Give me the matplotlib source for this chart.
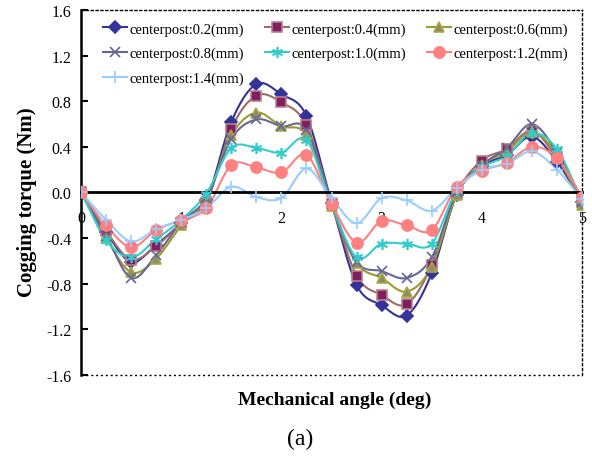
import numpy as np
import matplotlib.pyplot as plt

plt.rcParams['font.family'] = ['Liberation Serif', 'DejaVu Serif']

# rotor angle samples (deg)
angle = [0, 0.25, 0.5, 0.75, 1.0, 1.25, 1.5, 1.75, 2.0, 2.25, 2.5,
         2.75, 3.0, 3.25, 3.5, 3.75, 4.0, 4.25, 4.5, 4.75, 5.0]

# cogging torque (Nm) for each centerpost width
t_02 = [0, -0.35, -0.61, -0.46, -0.27, -0.07, 0.62, 0.95, 0.86, 0.67, -0.09,
        -0.81, -0.99, -1.08, -0.71, -0.02, 0.23, 0.33, 0.49, 0.27, -0.08]
t_04 = [0, -0.34, -0.59, -0.47, -0.27, -0.09, 0.56, 0.85, 0.79, 0.59, -0.09,
        -0.73, -0.90, -0.98, -0.64, -0.01, 0.28, 0.38, 0.54, 0.30, -0.08]
t_06 = [0, -0.40, -0.70, -0.58, -0.29, -0.06, 0.50, 0.70, 0.58, 0.50, -0.12,
        -0.62, -0.75, -0.87, -0.65, -0.02, 0.24, 0.36, 0.53, 0.33, -0.11]
t_08 = [0, -0.38, -0.75, -0.55, -0.26, -0.05, 0.47, 0.64, 0.58, 0.55, -0.10,
        -0.61, -0.69, -0.75, -0.57, 0.00, 0.24, 0.39, 0.60, 0.35, -0.08]
t_10 = [0, -0.42, -0.57, -0.41, -0.24, -0.01, 0.39, 0.39, 0.35, 0.46, -0.10,
        -0.57, -0.45, -0.45, -0.45, 0.02, 0.22, 0.32, 0.52, 0.38, -0.07]
t_12 = [0, -0.29, -0.48, -0.33, -0.24, -0.14, 0.24, 0.22, 0.175, 0.33, -0.10,
        -0.44, -0.25, -0.29, -0.33, 0.05, 0.19, 0.26, 0.40, 0.30, -0.04]
t_14 = [0, -0.24, -0.43, -0.32, -0.24, -0.14, 0.05, -0.04, -0.05, 0.21, -0.05,
        -0.27, -0.05, -0.07, -0.16, 0.04, 0.20, 0.25, 0.36, 0.20, -0.06]

yticks = [-1.6, -1.2, -0.8, -0.4, 0.0, 0.4, 0.8, 1.2, 1.6]
ytick_labels = ['-1.6', '-1.2', '-0.8', '-0.4', '0.0', '0.4', '0.8', '1.2', '1.6']

# (label, values, line colour, marker, face, edge, size)
series = [
    ('centerpost:0.2(mm)', t_02, '#333399', 'D', '#333399', '#333399', 6),
    ('centerpost:0.4(mm)', t_04, '#A06A6A', 's', '#7F1F5F', '#B8808A', 7),
    ('centerpost:0.6(mm)', t_06, '#9C9C2C', '^', '#8C8C6C', '#A8A840', 7),
    ('centerpost:0.8(mm)', t_08, '#666699', 'x', '#666699', '#666699', 7),
    ('centerpost:1.0(mm)', t_10, '#33CCCC', (6, 2, 0), '#33CCCC', '#33CCCC', 8),
    ('centerpost:1.2(mm)', t_12, '#FF8080', 'o', '#FF8080', '#FF8080', 8),
    ('centerpost:1.4(mm)', t_14, '#99CCFF', '+', '#99CCFF', '#99CCFF', 9),
]


def smooth(x, y, n=20):
    # Catmull-Rom curve through the sample points
    x = np.asarray(x, float)
    y = np.asarray(y, float)
    px = np.concatenate([[2 * x[0] - x[1]], x, [2 * x[-1] - x[-2]]])
    py = np.concatenate([[2 * y[0] - y[1]], y, [2 * y[-1] - y[-2]]])
    t = np.linspace(0, 1, n, endpoint=False)
    xs, ys = [], []
    for i in range(1, len(px) - 2):
        for p, out in ((px, xs), (py, ys)):
            p0, p1, p2, p3 = p[i - 1], p[i], p[i + 1], p[i + 2]
            out.append(0.5 * (2 * p1 + (-p0 + p2) * t
                              + (2 * p0 - 5 * p1 + 4 * p2 - p3) * t ** 2
                              + (-p0 + 3 * p1 - 3 * p2 + p3) * t ** 3))
    xs.append([x[-1]])
    ys.append([y[-1]])
    return np.concatenate(xs), np.concatenate(ys)


fig = plt.figure(figsize=(5.92, 4.60), dpi=100)
ax = fig.add_axes([0.137, 0.183, 0.846, 0.793])

handles = []
for label, vals, lc, mk, mfc, mec, ms in series:
    sx, sy = smooth(angle, vals)
    ax.plot(sx, sy, color=lc, lw=1.5, zorder=2)
    ax.plot(angle, vals, ls='none', marker=mk, ms=ms, mfc=mfc, mec=mec,
            mew=1.2, zorder=3)
    h, = ax.plot([], [], color=lc, lw=1.5, marker=mk, ms=ms, mfc=mfc,
                 mec=mec, mew=1.2, label=label)
    handles.append(h)

ax.set_xlim(0, 5)
ax.set_ylim(-1.6, 1.6)
ax.set_yticks(yticks)
ax.set_yticklabels(ytick_labels)
ax.set_xticks([0, 1, 2, 3, 4, 5])

# x axis runs through zero
ax.spines['bottom'].set_position(('data', 0))
ax.spines['bottom'].set_linewidth(2)
ax.spines['left'].set_linewidth(1.8)
for s in ('top', 'right'):
    ax.spines[s].set_linestyle((0, (1.5, 2)))
    ax.spines[s].set_linewidth(1)
ax.plot([0, 5], [-1.6, -1.6], color='black', lw=1, ls=(0, (1.5, 2)),
        clip_on=False, zorder=1)

ax.tick_params(axis='x', direction='inout', length=9, width=1.5,
               labelsize=11.5, pad=8)
ax.tick_params(axis='y', direction='in', length=5, width=1.5,
               labelsize=11.5, pad=7)
for t in ax.get_xticklines():
    if t.get_xdata()[0] in (0, 5):
        t.set_visible(False)

fig.text(0.046, 0.56, 'Cogging torque (Nm)', fontsize=15,
         fontweight='bold', rotation=90, ha='center', va='center')
fig.text(0.566, 0.13, 'Mechanical angle (deg)', fontsize=14,
         fontweight='bold', ha='center', va='center')
fig.text(0.507, 0.045, '(a)', fontsize=17, ha='center', va='center')

# legend reads row by row
order = [0, 3, 6, 1, 4, 2, 5]
ax.legend([handles[i] for i in order], [series[i][0] for i in order],
          ncol=3, loc='upper left', bbox_to_anchor=(0.044, 0.967),
          frameon=False, fontsize=10.5, handlelength=1.65,
          handletextpad=0.15, columnspacing=1.45, labelspacing=0.78,
          borderpad=0, borderaxespad=0)

fig.savefig('out.png', dpi=100)
